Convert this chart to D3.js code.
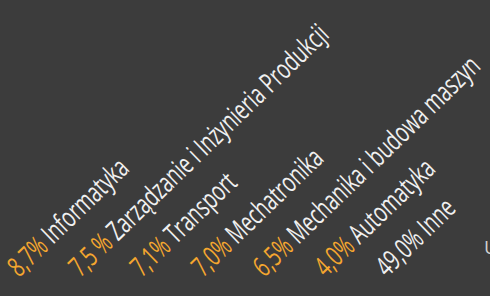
<!DOCTYPE html>
<html>
<head>
<meta charset="utf-8">
<script src="https://cdn.jsdelivr.net/npm/d3@7"></script>
<style>
  html, body { margin: 0; padding: 0; background: #3c3c3c; }
  svg { display: block; }
</style>
</head>
<body>
<div id="chart"></div>
<script>
const categories = ['Informatyka', 'Zarządzanie i Inżynieria Produkcji', 'Transport', 'Mechatronika',
  'Mechanika i budowa maszyn', 'Automatyka', 'Inne'];
const shares = [8.7, 7.5, 7.1, 7.0, 6.5, 4.0, 49.0];
const shareLabels = ['8,7%', '7,5 %', '7,1%', '7,0%', '6,5%', '4,0%', '49,0%'];

const width = 490, height = 296;
const angle = -44;
const fontFamily = '"Open Sans", "DejaVu Sans", sans-serif';

const svg = d3.select('#chart')
  .append('svg')
  .attr('width', width)
  .attr('height', height);

svg.append('rect')
  .attr('width', width)
  .attr('height', height)
  .attr('fill', '#3c3c3c');

const x = d3.scalePoint()
  .domain(categories)
  .range([19, 387]);

const baseY = 278;

const rows = categories.map((c, i) => ({ name: c, value: shares[i], label: shareLabels[i] }));

const labels = svg.selectAll('text.lbl')
  .data(rows)
  .enter()
  .append('text')
  .attr('class', 'lbl')
  .attr('font-family', fontFamily)
  .attr('font-size', 28);

labels.append('tspan')
  .attr('fill', d => d.name === 'Inne' ? '#f0f0f0' : '#f5a72f')
  .text(d => d.label);

labels.append('tspan')
  .attr('fill', '#f0f0f0')
  .text(d => ' ' + d.name);

// squeeze the glyphs to look like a condensed face
const refLen = labels.filter((d, i) => i === 1).node().getComputedTextLength();
const squeeze = 348 / refLen;

labels.attr('transform', d => `translate(${x(d.name)},${baseY}) rotate(${angle}) scale(${squeeze},1)`);

// partly cut text on the right edge
svg.append('text')
  .attr('x', 484)
  .attr('y', 254)
  .attr('font-family', fontFamily)
  .attr('font-size', 19)
  .attr('fill', '#d0d0d0')
  .text('U');
</script>
</body>
</html>
